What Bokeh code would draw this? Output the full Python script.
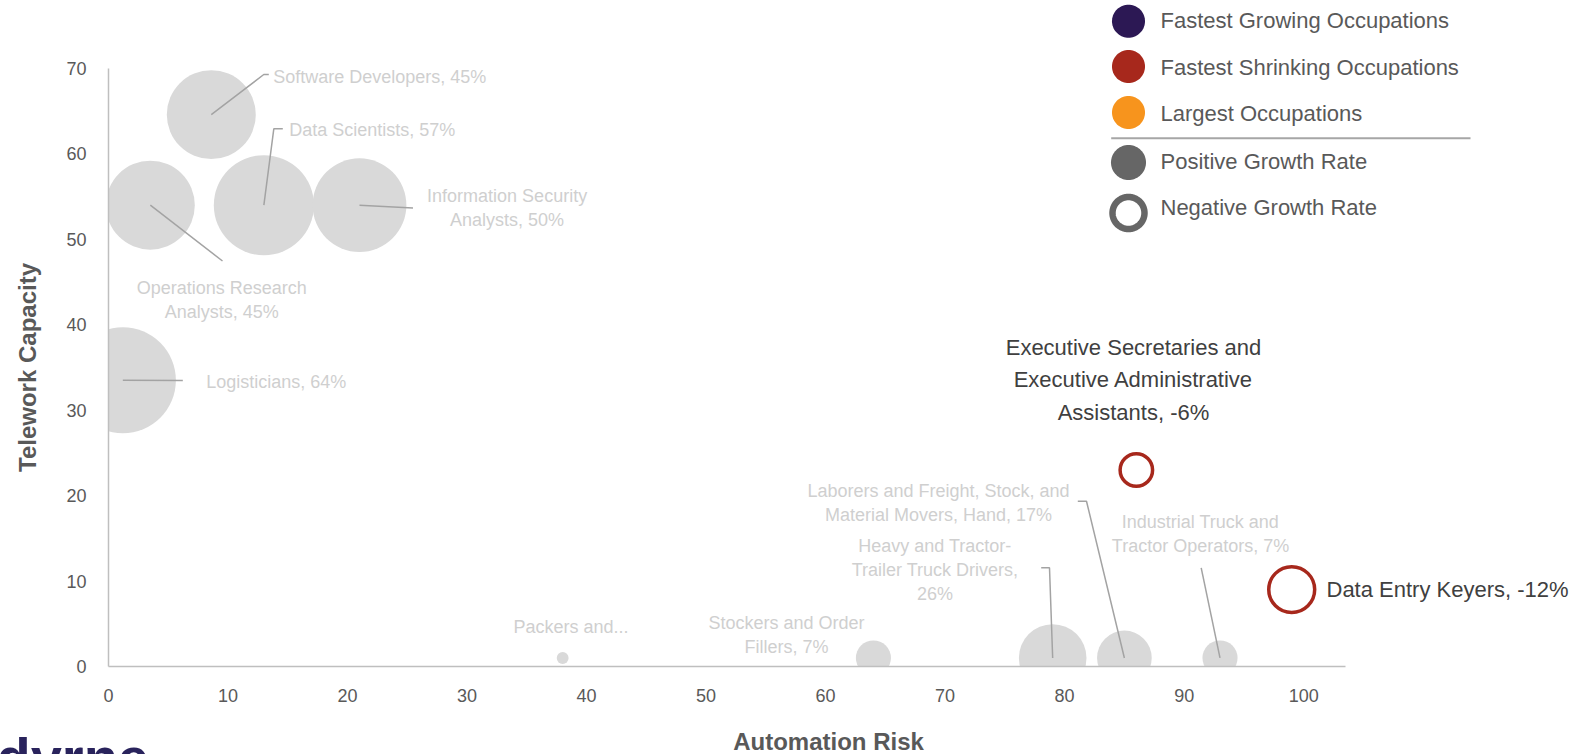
import numpy as np
from bokeh.plotting import figure
from bokeh.models import FixedTicker, Label, PolyAnnotation, Arrow, ColumnDataSource
from bokeh.embed import file_html
from bokeh.resources import INLINE

# ---------------------------------------------------------------- data
occupations = [
    "Software Developers",
    "Data Scientists",
    "Information Security Analysts",
    "Operations Research Analysts",
    "Logisticians",
    "Packers and Packagers, Hand",
    "Stockers and Order Fillers",
    "Heavy and Tractor-Trailer Truck Drivers",
    "Laborers and Freight, Stock, and Material Movers, Hand",
    "Industrial Truck and Tractor Operators",
    "Executive Secretaries and Executive Administrative Assistants",
    "Data Entry Keyers",
]
automation_risk = [8.6, 13.0, 21.0, 3.5, 1.2, 38.0, 64.0, 79.0, 85.0, 93.0, 86.0, 99.0]
telework_capacity = [64.6, 54.0, 54.0, 54.0, 33.5, 1.0, 1.0, 1.0, 1.0, 1.0, 23.0, 9.0]
growth_rate = [45, 57, 50, 45, 64, 0.8, 7, 26, 17, 7, -6, -12]
group = ["growing"] * 5 + ["largest"] * 5 + ["shrinking"] * 2

point_labels = [
    "Software Developers, 45%",
    "Data Scientists, 57%",
    "Information Security\nAnalysts, 50%",
    "Operations Research\nAnalysts, 45%",
    "Logisticians, 64%",
    "Packers and...",
    "Stockers and Order\nFillers, 7%",
    "Heavy and Tractor-\nTrailer Truck Drivers,\n26%",
    "Laborers and Freight, Stock, and\nMaterial Movers, Hand, 17%",
    "Industrial Truck and\nTractor Operators, 7%",
    "Executive Secretaries and\nExecutive Administrative\nAssistants, -6%",
    "Data Entry Keyers, -12%",
]

x_ticks = [0, 10, 20, 30, 40, 50, 60, 70, 80, 90, 100]
y_ticks = [0, 10, 20, 30, 40, 50, 60, 70]
X_MAX, Y_MAX = 103.5, 70

legend_labels = [
    "Fastest Growing Occupations",
    "Fastest Shrinking Occupations",
    "Largest Occupations",
    "Positive Growth Rate",
    "Negative Growth Rate",
]

# ---------------------------------------------------------------- styles
FONT = "Liberation Sans"
MUTED = "#d9d9d9"
MUTED_TEXT = "#cfcfcf"
LEADER = "#a3a3a3"
DARK_TEXT = "#404040"
AXIS_TEXT = "#595959"
RED = "#a7281c"
group_color = {"growing": MUTED, "largest": MUTED, "shrinking": RED}
BUBBLE_SCALE = 6.63  # px of radius per sqrt(% growth)

# page geometry: the plotting area (0..X_MAX, 0..Y_MAX) sits inside the page
W, H = 1584, 754
AX_LEFT, AX_RIGHT, AX_TOP, AX_BOTTOM = 108, 1345, 68, 666


def xd(px):
    """page pixel column -> x data value"""
    return (px - AX_LEFT) / (AX_RIGHT - AX_LEFT) * X_MAX


def yd(py):
    """page pixel row (from top) -> y data value"""
    return (AX_BOTTOM - py) / (AX_BOTTOM - AX_TOP) * Y_MAX


# the frame spans the whole page so that legend and notes can sit anywhere;
# the axes are pinned at the origin and bounded to the data area
p = figure(
    width=W, height=H,
    x_range=(xd(0), xd(W)), y_range=(yd(H), yd(0)),
    output_backend="svg", toolbar_location=None,
    min_border=0, min_border_left=0, min_border_right=0,
    min_border_top=0, min_border_bottom=0,
)
p.grid.visible = False
p.outline_line_color = None
p.background_fill_color = "white"
p.border_fill_color = "white"

for ax, ticks, bounds in ((p.xaxis, x_ticks, (0, X_MAX)), (p.yaxis, y_ticks, (0, Y_MAX))):
    ax.ticker = FixedTicker(ticks=ticks)
    ax.fixed_location = 0
    ax.bounds = bounds
    ax.axis_line_color = "#bfbfbf"
    ax.axis_line_width = 1.5
    ax.major_tick_line_color = None
    ax.minor_tick_line_color = None
    ax.major_label_text_font = FONT
    ax.major_label_text_font_size = "18px"
    ax.major_label_text_color = AXIS_TEXT

p.xaxis.major_label_standoff = 16
p.yaxis.major_label_standoff = 16
p.yaxis.axis_label = "Telework Capacity"
p.yaxis.axis_label_text_font = FONT
p.yaxis.axis_label_text_font_style = "bold"
p.yaxis.axis_label_text_font_size = "24px"
p.yaxis.axis_label_text_color = AXIS_TEXT
p.yaxis.axis_label_standoff = 22

p.add_layout(Label(x=xd(828), y=yd(741), text="Automation Risk", text_font=FONT,
                   text_font_style="bold", text_font_size="24px", text_color=AXIS_TEXT,
                   text_align="center", text_baseline="middle"))

# ---------------------------------------------------------------- bubbles
sizes = [2 * BUBBLE_SCALE * np.sqrt(abs(g)) for g in growth_rate]
pos = [i for i, g in enumerate(growth_rate) if g >= 0]
neg = [i for i, g in enumerate(growth_rate) if g < 0]

src_pos = ColumnDataSource(dict(
    x=[automation_risk[i] for i in pos], y=[telework_capacity[i] for i in pos],
    s=[sizes[i] for i in pos], c=[group_color[group[i]] for i in pos]))
src_neg = ColumnDataSource(dict(
    x=[automation_risk[i] for i in neg], y=[telework_capacity[i] for i in neg],
    s=[sizes[i] for i in neg], c=[group_color[group[i]] for i in neg]))

p.scatter("x", "y", size="s", marker="circle", fill_color="c", line_color=None, source=src_pos)
p.scatter("x", "y", size="s", marker="circle", fill_color=None, line_color="c",
          line_width=3.5, source=src_neg)

# bubbles are cut at the axes: blank out everything left of x=0 and below y=0
x_lo, x_hi, y_lo, y_hi = xd(0), xd(W), yd(H), yd(0)
p.quad(left=[x_lo, x_lo], right=[0, x_hi], bottom=[y_lo, y_lo], top=[y_hi, 0],
       fill_color="white", line_color=None)

# ---------------------------------------------------------------- data labels
# (label anchor px x, px y, align, leader elbow points in px from label towards bubble)
label_layout = [
    (272.7, 76.0, "left", [(268.3, 74.0), (263.3, 74.0)]),
    (288.7, 129.5, "left", [(282.3, 128.3), (273.3, 128.3)]),
    (506.6, 207.5, "center", [(412.5, 207.5)]),
    (221.2, 299.0, "center", [(222.0, 260.5)]),
    (205.7, 381.0, "left", [(182.3, 380.0)]),
    (570.5, 626.0, "center", []),
    (786.0, 634.2, "center", []),
    (934.5, 569.2, "center", [(1040.7, 567.3), (1049.0, 567.3)]),
    (938.0, 502.0, "center", [(1077.3, 500.7), (1086.0, 500.7)]),
    (1200.0, 533.0, "center", [(1200.7, 567.3)]),
    (1133.0, 379.0, "center", []),
    (1326.0, 588.5, "left", []),
]

leader_xs, leader_ys = [], []
for i, (lx, ly, align, elbow) in enumerate(label_layout):
    dark = group[i] == "shrinking"
    p.add_layout(Label(
        x=xd(lx), y=yd(ly), text=point_labels[i], text_font=FONT,
        text_font_size="22px" if dark else "18px",
        text_color=DARK_TEXT if dark else MUTED_TEXT,
        text_align=align, text_baseline="middle",
        text_line_height=1.30 if dark else 1.20))
    if elbow:
        leader_xs.append([xd(px) for px, _ in elbow] + [automation_risk[i]])
        leader_ys.append([yd(py) for _, py in elbow] + [telework_capacity[i]])

p.multi_line(leader_xs, leader_ys, line_color=LEADER, line_width=1.5)

# ---------------------------------------------------------------- legend
def circle_poly(cx, cy, r, n=72):
    t = np.linspace(0, 2 * np.pi, n, endpoint=False)
    return [xd(cx + r * np.cos(a)) for a in t], [yd(cy + r * np.sin(a)) for a in t]


LEG_X, LEG_TEXT_X = 1128, 1160
legend_rows = [20.7, 66.0, 112.0, 162.0, 212.5]
legend_fill = ["#2c1854", RED, "#f7941d", "#666666", None]
legend_r = [16.5, 16.5, 16.5, 17.5, 16.0]

for cy, fill, r in zip(legend_rows, legend_fill, legend_r):
    xs, ys = circle_poly(LEG_X, cy, r)
    if fill is None:
        p.add_layout(PolyAnnotation(xs=xs, ys=ys, fill_color=None, fill_alpha=0,
                                    line_color="#666666", line_alpha=1, line_width=6.5))
    else:
        p.add_layout(PolyAnnotation(xs=xs, ys=ys, fill_color=fill, fill_alpha=1,
                                    line_color=None))

for cy, txt in zip([20.0, 66.7, 113.3, 161.0, 206.7], legend_labels):
    p.add_layout(Label(x=xd(LEG_TEXT_X), y=yd(cy), text=txt, text_font=FONT,
                       text_font_size="22px", text_color=AXIS_TEXT,
                       text_align="left", text_baseline="middle"))

p.add_layout(Arrow(start=None, end=None, x_start=xd(1110.7), y_start=yd(137.7),
                   x_end=xd(1470), y_end=yd(137.7), line_color="#a6a6a6", line_width=2))

# brand wordmark, partly cut by the page edge
p.add_layout(Label(x=xd(-4), y=yd(757), text="dyrne", text_font=FONT,
                   text_font_style="bold", text_font_size="56px", text_color="#29235c",
                   text_align="left", text_baseline="alphabetic"))

open("out.html", "w").write(file_html(p, INLINE))
